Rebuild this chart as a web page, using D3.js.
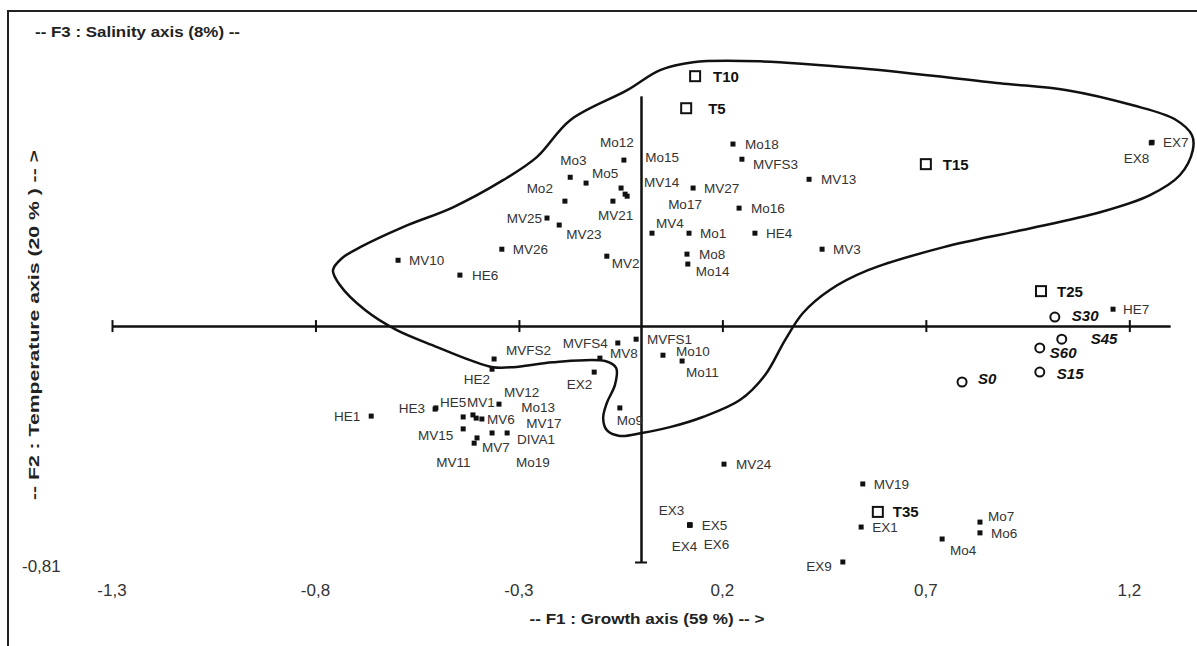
<!DOCTYPE html>
<html>
<head>
<meta charset="utf-8">
<script src="https://cdnjs.cloudflare.com/ajax/libs/d3/7.8.5/d3.min.js"></script>
<style>
body{margin:0;background:#fff;}
svg text{font-family:"Liberation Sans",Arial,sans-serif;}
</style>
</head>
<body>
<svg id="PcaChart"></svg>
<script>
// samples (filled squares) : F1 / F2 coordinates
var sampleNames = ["MV10","HE6","MV26","MV25","MV23","Mo2","Mo3","Mo5","Mo12","Mo15","MV14","Mo17","MV21","MV2",
    "MV4","Mo1","Mo8","Mo14","MV27","Mo18","MVFS3","MV13","Mo16","HE4","MV3","EX7","EX8","HE7",
    "MVFS2","HE2","EX2","MV8","MVFS4","MVFS1","Mo10","Mo11","Mo9","HE1","HE3","HE5","MV12","Mo13",
    "MV1","MV17","MV6","MV15","MV7","MV11","Mo19","DIVA1","MV24","MV19","EX1","Mo7","Mo6","Mo4","EX9",
    "EX3","EX4","EX5","EX6"];
var sampleF1 = [-0.597,-0.445,-0.342,-0.231,-0.201,-0.187,-0.174,-0.135,-0.042,-0.034,-0.049,-0.039,-0.069,-0.084,
    0.027,0.118,0.113,0.115,0.128,0.226,0.248,0.413,0.241,0.280,0.445,1.256,1.254,1.160,
    -0.361,-0.366,-0.115,-0.101,-0.057,-0.012,0.054,0.101,-0.052,-0.663,-0.506,-0.504,-0.349,-0.437,
    -0.413,-0.405,-0.391,-0.437,-0.403,-0.410,-0.366,-0.329,0.204,0.545,0.541,0.833,0.833,0.740,0.496,
    0.120,0.120,0.120,0.120];
var sampleF2 = [0.226,0.175,0.264,0.371,0.347,0.429,0.511,0.491,0.570,0.446,0.474,0.453,0.429,0.240,
    0.319,0.319,0.247,0.213,0.474,0.625,0.573,0.504,0.405,0.319,0.264,0.631,0.629,0.058,
    -0.113,-0.148,-0.158,-0.110,-0.058,-0.045,-0.100,-0.120,-0.281,-0.309,-0.285,-0.281,-0.268,-0.312,
    -0.305,-0.316,-0.319,-0.353,-0.384,-0.402,-0.367,-0.367,-0.474,-0.542,-0.690,-0.673,-0.710,-0.731,-0.810,
    -0.683,-0.683,-0.683,-0.683];

// temperature points (open squares)
var tempNames = ["T5","T10","T15","T25","T35"];
var tempF1 = [0.111,0.133,0.700,0.983,0.582];
var tempF2 = [0.748,0.858,0.556,0.120,-0.638];

// salinity points (open circles)
var saltNames = ["S0","S15","S30","S45","S60"];
var saltF1 = [0.789,0.980,1.017,1.034,0.980];
var saltF2 = [-0.192,-0.158,0.031,-0.045,-0.075];

// hand drawn envelope round the group
var envelopeF1 = [0.128,0.292,0.538,0.882,1.047,1.209,1.312,1.354,1.356,1.324,1.251,1.128,0.934,0.744,0.558,0.464,
    0.398,0.354,0.305,0.243,0.152,0.071,0.002,-0.052,-0.084,-0.093,-0.084,-0.064,-0.061,-0.088,-0.216,-0.314,
    -0.364,-0.420,-0.501,-0.600,-0.678,-0.740,-0.757,-0.735,-0.690,-0.585,-0.462,-0.339,-0.256,-0.174,-0.034,0.047];
var envelopeF2 = [0.906,0.909,0.885,0.834,0.810,0.758,0.710,0.655,0.604,0.518,0.450,0.391,0.329,0.271,0.192,0.124,
    0.045,-0.048,-0.168,-0.254,-0.312,-0.347,-0.367,-0.377,-0.357,-0.316,-0.264,-0.202,-0.144,-0.120,-0.124,-0.141,
    -0.141,-0.117,-0.072,-0.014,0.055,0.141,0.192,0.233,0.271,0.340,0.408,0.501,0.580,0.707,0.810,0.879];

var xTicks = [-1.3,-0.8,-0.3,0.2,0.7,1.2];
var xTickLabels = ["-1,3","-0,8","-0,3","0,2","0,7","1,2"];
var yMin = -0.81, yMax = 0.79;
var yMinLabel = "-0,81";

// where each label sits from its marker: [dx, dy, anchor]
var labelSpots = {
    MV10:[11,0],HE6:[12,0],MV26:[11,0],MV25:[-5,0,"end"],MV23:[7,9],Mo2:[-12,-13,"end"],Mo3:[-10,-17],
    Mo5:[6,-10],Mo12:[-24,-18],Mo15:[18,-39],MV14:[23,-6],Mo17:[43,10],MV21:[-15,14],MV2:[5,7],
    MV4:[4,-10],Mo1:[11,0],Mo8:[12,0],Mo14:[8,7],MV27:[11,0],Mo18:[12,0],MVFS3:[11,5],MV13:[12,0],
    Mo16:[12,0],HE4:[11,0],MV3:[11,0],EX7:[11,0],EX8:[-2,15,"end"],HE7:[10,0],
    MVFS2:[12,-9],HE2:[-2,10,"end"],EX2:[-2,12,"end"],MV8:[10,-5],MVFS4:[-10,0,"end"],MVFS1:[11,0],
    Mo10:[13,-4],Mo11:[4,11],Mo9:[-3,12],HE1:[-11,0,"end"],HE3:[-10,-1,"end"],HE5:[4,-6],MV12:[5,-12],
    Mo13:[58,-10],MV1:[-6,-13],MV17:[50,5],MV6:[5,0],MV15:[-10,6,"end"],MV7:[5,9],MV11:[-38,19],
    Mo19:[24,29],DIVA1:[10,6],MV24:[12,0],MV19:[11,0],EX1:[11,0],Mo7:[8,-6],Mo6:[11,0],Mo4:[8,11],
    EX9:[-11,4,"end"],EX3:[-31,-15],EX4:[-18,21],EX5:[12,0],EX6:[14,19],
    T5:[22,0],T10:[18,0],T15:[17,0],T25:[16,0],T35:[15,0],
    S0:[16,-3],S15:[17,1],S30:[17,-1],S45:[29,-1],S60:[10,5]
};

var zipPoints = function(names,f1,f2)
{
    return names.map(function(n,i){ return {name:n, f1:f1[i], f2:f2[i]}; });
}

var drawAxes = function(target,xScale,yScale)
{
    var xAxisDown = d3.axisBottom(xScale).tickValues(xTicks).tickSize(6).tickSizeOuter(0).tickFormat("");
    var xAxisUp = d3.axisTop(xScale).tickValues(xTicks).tickSize(6).tickSizeOuter(0).tickFormat("");
    var yAxisL = d3.axisLeft(yScale).tickValues([yMin]).tickSize(6).tickSizeOuter(0).tickFormat("");
    var yAxisR = d3.axisRight(yScale).tickValues([yMin]).tickSize(6).tickSizeOuter(0).tickFormat("");

    var y0 = yScale(0), x0 = xScale(0);
    [xAxisDown,xAxisUp].forEach(function(ax){
        target.append("g").attr("class","axis").attr("transform","translate(0,"+y0+")").call(ax);
    });
    [yAxisL,yAxisR].forEach(function(ax){
        target.append("g").attr("class","axis").attr("transform","translate("+x0+",0)").call(ax);
    });
    target.selectAll(".axis path, .axis line")
        .attr("stroke","#111")
        .attr("stroke-width",2);

    target.append("g").selectAll("text")
        .data(xTicks)
        .enter()
        .append("text")
        .attr("x",function(d){ return xScale(d); })
        .attr("y",596)
        .attr("text-anchor","middle")
        .attr("font-size",17)
        .attr("fill","#333")
        .text(function(d,i){ return xTickLabels[i]; });

    target.append("text")
        .attr("x",22)
        .attr("y",yScale(yMin)+10)
        .attr("font-size",17)
        .attr("fill","#333")
        .text(yMinLabel);
}

var drawTitles = function(target,xScale)
{
    target.append("text")
        .attr("x",35).attr("y",37)
        .attr("font-size",15).attr("font-weight","bold").attr("fill","#222")
        .attr("textLength",205).attr("lengthAdjust","spacingAndGlyphs")
        .text("-- F3 : Salinity axis (8%) --");

    target.append("text")
        .attr("x",xScale(0)+6).attr("y",624)
        .attr("text-anchor","middle")
        .attr("font-size",15).attr("font-weight","bold").attr("fill","#222")
        .attr("textLength",235).attr("lengthAdjust","spacingAndGlyphs")
        .text("-- F1 : Growth axis (59 %) -- >");

    target.append("g")
        .attr("transform","translate(39,325)")
        .append("text")
        .attr("transform","rotate(270)")
        .attr("text-anchor","middle")
        .attr("font-size",15).attr("font-weight","bold").attr("fill","#222")
        .attr("textLength",350).attr("lengthAdjust","spacingAndGlyphs")
        .text("-- F2 : Temperature axis (20 % ) -- >");
}

var drawLabels = function(target,points,xScale,yScale,size,weight,style,color)
{
    target.append("g").selectAll("text")
        .data(points)
        .enter()
        .append("text")
        .attr("x",function(p){ return xScale(p.f1)+labelSpots[p.name][0]; })
        .attr("y",function(p){ return yScale(p.f2)+labelSpots[p.name][1]; })
        .attr("dy","0.36em")
        .attr("text-anchor",function(p){ return labelSpots[p.name][2] || "start"; })
        .attr("font-size",size)
        .attr("font-weight",weight)
        .attr("font-style",style)
        .attr("fill",color)
        .text(function(p){ return p.name; });
}

var initiatePlot = function()
{
    var screen = {width:1197,height:646};
    var svg = d3.select("#PcaChart")
        .attr("width",screen.width)
        .attr("height",screen.height);

    var xScale = d3.scaleLinear().domain([-1.3,1.3]).range([112,1170]);
    var yScale = d3.scaleLinear().domain([yMin,yMax]).range([562,96]);

    // frame (only left and top sides are in view)
    svg.append("path")
        .attr("d","M8,"+screen.height+"V11H"+screen.width)
        .attr("fill","none")
        .attr("stroke","#222")
        .attr("stroke-width",2);

    var envelope = envelopeF1.map(function(v,i){ return [v,envelopeF2[i]]; });
    var line = d3.line()
        .x(function(d){ return xScale(d[0]); })
        .y(function(d){ return yScale(d[1]); })
        .curve(d3.curveCatmullRomClosed.alpha(0.5));
    svg.append("path")
        .datum(envelope)
        .attr("d",line)
        .attr("fill","none")
        .attr("stroke","#111")
        .attr("stroke-width",2.5);

    drawAxes(svg,xScale,yScale);
    drawTitles(svg,xScale);

    var samples = zipPoints(sampleNames,sampleF1,sampleF2);
    var temps = zipPoints(tempNames,tempF1,tempF2);
    var salts = zipPoints(saltNames,saltF1,saltF2);

    svg.append("g").selectAll("rect")
        .data(samples)
        .enter()
        .append("rect")
        .attr("x",function(p){ return xScale(p.f1)-2.5; })
        .attr("y",function(p){ return yScale(p.f2)-2.5; })
        .attr("width",5)
        .attr("height",5)
        .attr("fill","#111");

    svg.append("g").selectAll("rect")
        .data(temps)
        .enter()
        .append("rect")
        .attr("x",function(p){ return xScale(p.f1)-5; })
        .attr("y",function(p){ return yScale(p.f2)-5; })
        .attr("width",10)
        .attr("height",10)
        .attr("fill","#fff")
        .attr("stroke","#111")
        .attr("stroke-width",2);

    svg.append("g").selectAll("circle")
        .data(salts)
        .enter()
        .append("circle")
        .attr("cx",function(p){ return xScale(p.f1); })
        .attr("cy",function(p){ return yScale(p.f2); })
        .attr("r",4.5)
        .attr("fill","#fff")
        .attr("stroke","#111")
        .attr("stroke-width",2);

    drawLabels(svg,samples,xScale,yScale,13.5,"normal","normal","#333");
    drawLabels(svg,temps,xScale,yScale,15,"bold","normal","#111");
    drawLabels(svg,salts,xScale,yScale,15,"bold","italic","#111");
}

initiatePlot();
</script>
</body>
</html>
